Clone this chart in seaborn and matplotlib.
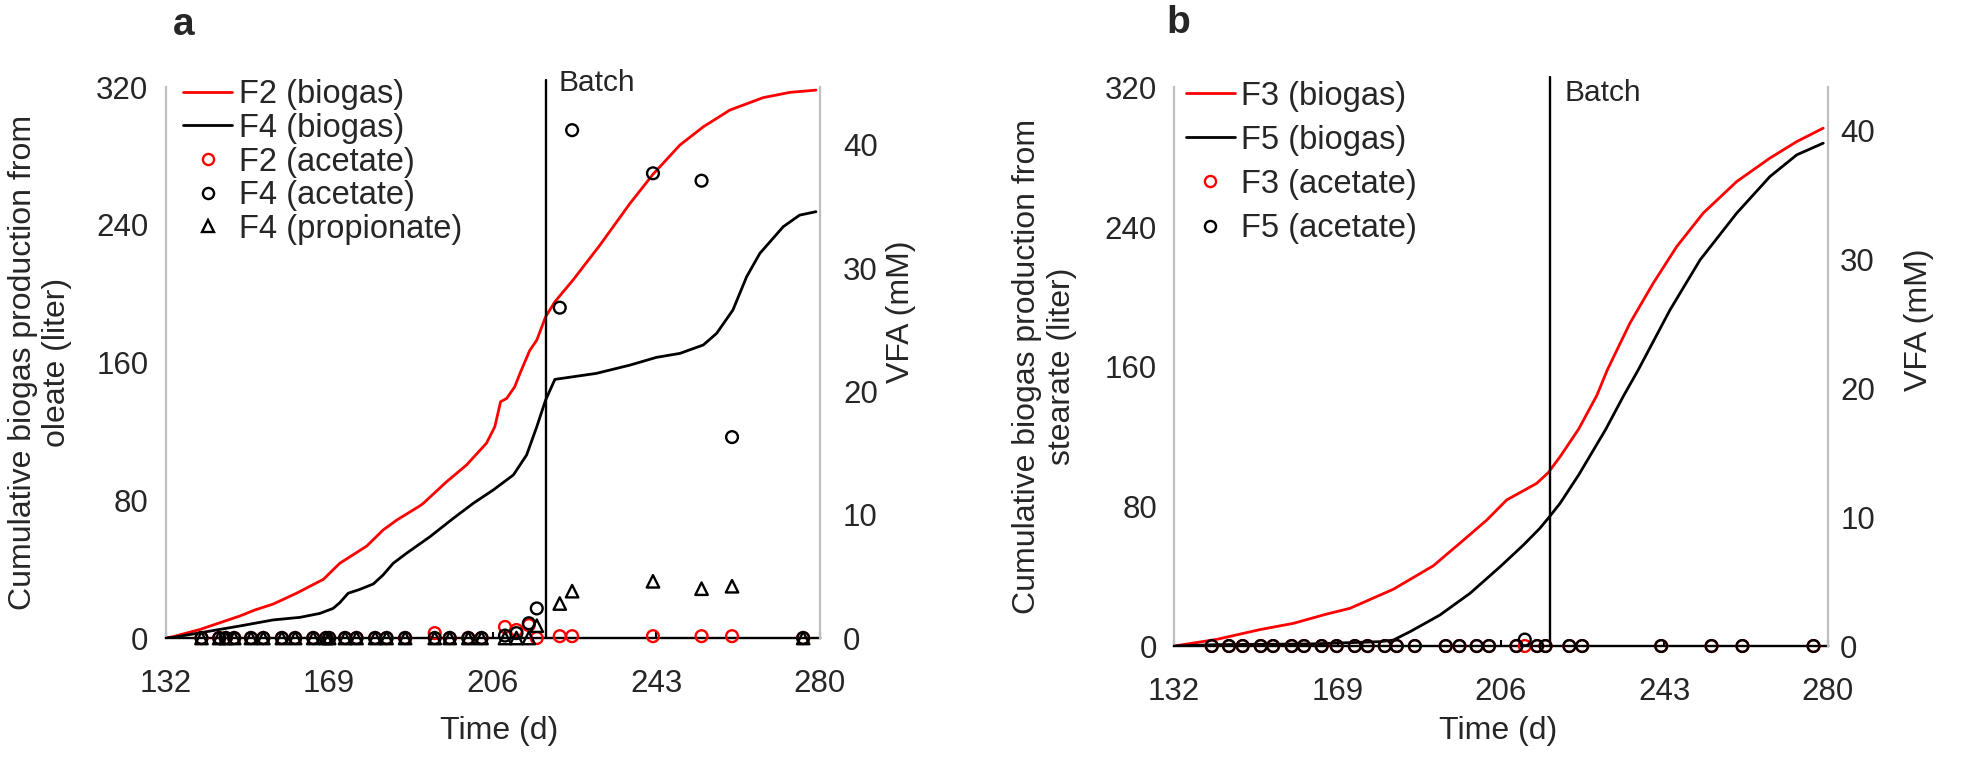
"""
Cumulative biogas production and VFA, oleate (a) vs stearate (b) reactors
"""

# ── 0. Imports ──────────────────────────────────────────────────────────────
import matplotlib
matplotlib.use("Agg")
import matplotlib.pyplot as plt
from matplotlib.lines import Line2D
import seaborn as sns

sns.set_theme(style="white")
plt.rcParams["font.family"] = ["Liberation Sans", "DejaVu Sans"]

# ── 1. Data: panel a (oleate) ───────────────────────────────────────────────
a_f2_day = [132, 133.7, 139.8, 144.3, 148.8, 152.2, 156.3, 161.6, 167.7, 171.4,
            177.5, 181.2, 184.3, 189.5, 190.3, 195.6, 200.1, 204.6, 206.5, 207.8,
            209.2, 211.0, 212.2, 214.4, 216.0, 218.0, 220.1, 224.2, 230.3, 237.1,
            242.3, 248.4, 253.7, 259.7, 267.2, 273.3, 279.2]
a_f2_gas = [0, 0.8, 5, 8.9, 12.8, 16.3, 19.7, 26, 34.1, 43.4,
            53.4, 62.7, 68.5, 76.7, 78.2, 90.8, 100.5, 113.1, 122.7, 137.2,
            139.2, 145.9, 153.7, 167, 173, 186.6, 195.3, 207.9, 228.2, 252.4,
            269.3, 286.3, 296.9, 306.6, 313.8, 316.9, 318.2]

a_f4_day = [132, 133.7, 141.3, 148.8, 156.3, 162.4, 166.9, 169.9, 171.4, 173.3,
            176.0, 179.0, 181.2, 183.5, 186.5, 191.8, 197.1, 201.6, 206.1, 210.7,
            213.7, 216.0, 218.0, 220.1, 229.5, 237.1, 243.1, 248.4, 253.7, 256.7,
            260.4, 263.5, 266.5, 271.8, 275.5, 279.2]
a_f4_gas = [0, 0.4, 3.7, 7, 10.5, 12, 14.3, 17.2, 20.5, 26,
            28.3, 31.4, 36.6, 43.4, 49.2, 58.8, 69.5, 78.2, 85.9, 94.7,
            106.3, 122.7, 138.2, 150.2, 153.7, 158.5, 163, 165.3, 170.2, 176.9,
            190.5, 209.8, 223.4, 238.9, 245.6, 247.6]

a_vfa_day = [140.1, 144.1, 145.6, 147.5, 151.3, 154.1, 158.3, 161.3, 165.4, 168.3,
             169.0, 172.6, 175.2, 179.4, 182.0, 186.2, 192.9, 196.3, 200.5, 203.5,
             208.8, 211.4, 214.2, 216.0, 221.2, 224.0, 242.3, 253.3, 260.2, 276.3]
a_f2_acet = [0, 0, 0, 0, 0, 0, 0, 0, 0, 0,
             0, 0, 0, 0, 0, 0, 0.4, 0, 0, 0,
             0.9, 0.65, 1.05, 0, 0.15, 0.15, 0.15, 0.15, 0.15, 0]
a_f4_acet = [0, 0, 0, 0, 0, 0, 0, 0, 0, 0,
             0, 0, 0, 0, 0, 0, 0, 0, 0, 0,
             0.2, 0.4, 1.2, 2.4, 26.8, 41.2, 37.7, 37.1, 16.3, 0]
a_f4_prop = [0, 0, 0, 0, 0, 0, 0, 0, 0, 0,
             0, 0, 0, 0, 0, 0, 0, 0, 0, 0,
             0, 0, 0, 1.0, 2.8, 3.8, 4.6, 4.0, 4.2, 0]

a_batch = 218.0

# ── 2. Data: panel b (stearate) ─────────────────────────────────────────────
b_f3_day = [132, 141.6, 151.4, 159.0, 166.5, 171.8, 181.6, 190.7, 194.4, 196.7,
            202.8, 207.3, 211.1, 214.1, 216.7, 219.4, 223.6, 227.7, 230.1, 235.2,
            240.5, 245.8, 251.8, 259.4, 266.9, 273.0, 279.0]
b_f3_gas = [0, 3.8, 9.4, 13, 18.3, 21.6, 32.5, 46, 54, 58.9,
            72.2, 83.7, 89, 93.2, 99.3, 108.5, 124.3, 143.5, 158.2, 184.9,
            207.9, 228.8, 248, 266.1, 279.5, 289, 296.7]

b_f5_day = [132, 141.6, 163.0, 178.6, 181.6, 185.4, 192.2, 199.0, 205.8, 211.1,
            214.8, 216.9, 219.4, 223.6, 229.7, 233.7, 237.1, 244.3, 251.1, 259.4,
            266.9, 273.0, 279.0]
b_f5_gas = [0, 0.8, 1.2, 2.5, 3.4, 8.2, 17.8, 30.2, 45.4, 57.9,
            67.4, 73.8, 81.8, 98, 124, 143, 158.2, 192.6, 221.2, 248,
            268.9, 281.4, 288.1]

b_vfa_day = [140.5, 144.4, 147.5, 151.6, 154.4, 158.6, 161.4, 165.4, 168.8, 172.9,
             175.8, 179.7, 182.4, 186.5, 193.5, 196.6, 200.5, 203.3, 209.5, 211.4,
             214.2, 216.1, 221.5, 224.4, 242.3, 253.7, 260.7, 276.8]
b_f3_acet = [0] * len(b_vfa_day)
b_f5_acet = [0, 0, 0, 0, 0, 0, 0, 0, 0, 0,
             0, 0, 0, 0, 0, 0, 0, 0, 0, 0.5,
             0, 0, 0, 0, 0, 0, 0, 0]

b_batch = 217.0

# ── 3. Axis settings ────────────────────────────────────────────────────────
x_ticks = [132, 169, 206, 243, 280]
gas_ticks = [0, 80, 160, 240, 320]
vfa_ticks = [0, 10, 20, 30, 40]

GRAY = "#BFBFBF"
FS = 22.5
LW = 2.0
MS_CIRC = 72
MS_TRI = 80


def style(ax, ax2, vfa_max, right_pad):
    ax.set_xlim(132, 280); ax.set_ylim(0, 320)
    ax.set_xticks(x_ticks); ax.set_yticks(gas_ticks)
    ax2.set_ylim(0, vfa_max); ax2.set_yticks(vfa_ticks)
    ax.set_xlabel(""); ax.set_ylabel(""); ax2.set_ylabel("")
    ax.grid(False); ax2.grid(False)
    ax.spines["top"].set_visible(False); ax.spines["right"].set_visible(False)
    ax.spines["left"].set_color(GRAY); ax.spines["left"].set_linewidth(1.6)
    ax.spines["bottom"].set_color("black"); ax.spines["bottom"].set_linewidth(1.7)
    for s in ["top", "left", "bottom"]:
        ax2.spines[s].set_visible(False)
    ax2.spines["right"].set_color(GRAY); ax2.spines["right"].set_linewidth(1.6)
    ax.tick_params(axis="x", direction="in", length=4, width=1.5, color="black",
                   pad=22, labelsize=FS, bottom=True)
    ax.tick_params(axis="y", length=0, pad=12.5, labelsize=FS)
    ax2.tick_params(axis="y", length=0, pad=right_pad, labelsize=FS)
    ax2.patch.set_visible(False)


def open_marks(ax2, x, y, color, marker, size):
    sns.scatterplot(x=x, y=y, ax=ax2, marker=marker, s=size, color=color,
                    facecolor="none", edgecolor=color, linewidth=1.7,
                    clip_on=False, zorder=3, legend=False)


def handle_line(c):
    return Line2D([], [], color=c, lw=LW)


def handle_mark(c, m, ms):
    return Line2D([], [], ls="none", marker=m, mfc="none", mec=c, mew=1.7, ms=ms)


fig = plt.figure(figsize=(19.61, 7.62), dpi=100)

# ── 4. Panel a ──────────────────────────────────────────────────────────────
ax = fig.add_axes([0.0845, 0.1627, 0.3334, 0.7231])
ax2 = ax.twinx()
sns.lineplot(x=a_f2_day, y=a_f2_gas, ax=ax, color="red", linewidth=LW,
             estimator=None, sort=False)
sns.lineplot(x=a_f4_day, y=a_f4_gas, ax=ax, color="black", linewidth=LW,
             estimator=None, sort=False)
open_marks(ax2, a_vfa_day, a_f2_acet, "red", "o", MS_CIRC)
open_marks(ax2, a_vfa_day, a_f4_acet, "black", "o", MS_CIRC)
open_marks(ax2, a_vfa_day, a_f4_prop, "black", "^", MS_TRI)
style(ax, ax2, 44.7, 17)
ax.axvline(a_batch, ymin=0, ymax=1.013, color="black", lw=1.7, clip_on=False)
ax.annotate("Batch", xy=(a_batch, 1.007), xycoords=("data", "axes fraction"),
            xytext=(9, 0), textcoords="offset points", ha="left", va="center",
            fontsize=21.5)

ax2.legend([handle_line("red"), handle_line("black"),
            handle_mark("red", "o", 8), handle_mark("black", "o", 8),
            handle_mark("black", "^", 8)],
           ["F2 (biogas)", "F4 (biogas)", "F2 (acetate)", "F4 (acetate)",
            "F4 (propionate)"],
           loc="upper left", bbox_to_anchor=(0.0265, 1.014), frameon=False,
           fontsize=23.5, handlelength=1.5, handletextpad=0.2, labelspacing=0.08,
           borderpad=0, borderaxespad=0)

ax.text(-0.192, 0.5, "Cumulative biogas production from\noleate (liter)",
        transform=ax.transAxes, rotation=90, ha="center", va="center",
        fontsize=23, linespacing=1.2)
ax2.text(1.125, 0.592, "VFA (mM)", transform=ax2.transAxes, rotation=90,
         ha="center", va="center", fontsize=23)
ax.text(0.51, -0.169, "Time (d)", transform=ax.transAxes, ha="center",
        va="center", fontsize=23)

# ── 5. Panel b ──────────────────────────────────────────────────────────────
bx = fig.add_axes([0.5988, 0.1522, 0.3332, 0.733])
bx2 = bx.twinx()
sns.lineplot(x=b_f3_day, y=b_f3_gas, ax=bx, color="red", linewidth=LW,
             estimator=None, sort=False)
sns.lineplot(x=b_f5_day, y=b_f5_gas, ax=bx, color="black", linewidth=LW,
             estimator=None, sort=False)
open_marks(bx2, b_vfa_day, b_f3_acet, "red", "o", MS_CIRC)
open_marks(bx2, b_vfa_day, b_f5_acet, "black", "o", MS_CIRC)
style(bx, bx2, 43.3, 9)
bx.axvline(b_batch, ymin=0, ymax=1.019, color="black", lw=1.7, clip_on=False)
bx.annotate("Batch", xy=(b_batch, 0.99), xycoords=("data", "axes fraction"),
            xytext=(11, 0), textcoords="offset points", ha="left", va="center",
            fontsize=21.5)

bx2.legend([handle_line("red"), handle_line("black"),
            handle_mark("red", "o", 8), handle_mark("black", "o", 8)],
           ["F3 (biogas)", "F5 (biogas)", "F3 (acetate)", "F5 (acetate)"],
           loc="upper left", bbox_to_anchor=(0.018, 1.012), frameon=False,
           fontsize=23.5, handlelength=1.5, handletextpad=0.2, labelspacing=0.40,
           borderpad=0, borderaxespad=0)

bx.text(-0.199, 0.5, "Cumulative biogas production from\nstearate (liter)",
        transform=bx.transAxes, rotation=90, ha="center", va="center",
        fontsize=23, linespacing=1.2)
bx2.text(1.1397, 0.585, "VFA (mM)", transform=bx2.transAxes, rotation=90,
         ha="center", va="center", fontsize=23)
bx.text(0.495, -0.152, "Time (d)", transform=bx.transAxes, ha="center",
        va="center", fontsize=23)

# ── 6. Panel letters and save ───────────────────────────────────────────────
fig.text(0.0938, 0.967, "a", fontsize=28, fontweight="bold", ha="center", va="center")
fig.text(0.601, 0.970, "b", fontsize=28, fontweight="bold", ha="center", va="center")

fig.savefig("out.png", dpi=100)
plt.close(fig)
print("[saved] out.png")
